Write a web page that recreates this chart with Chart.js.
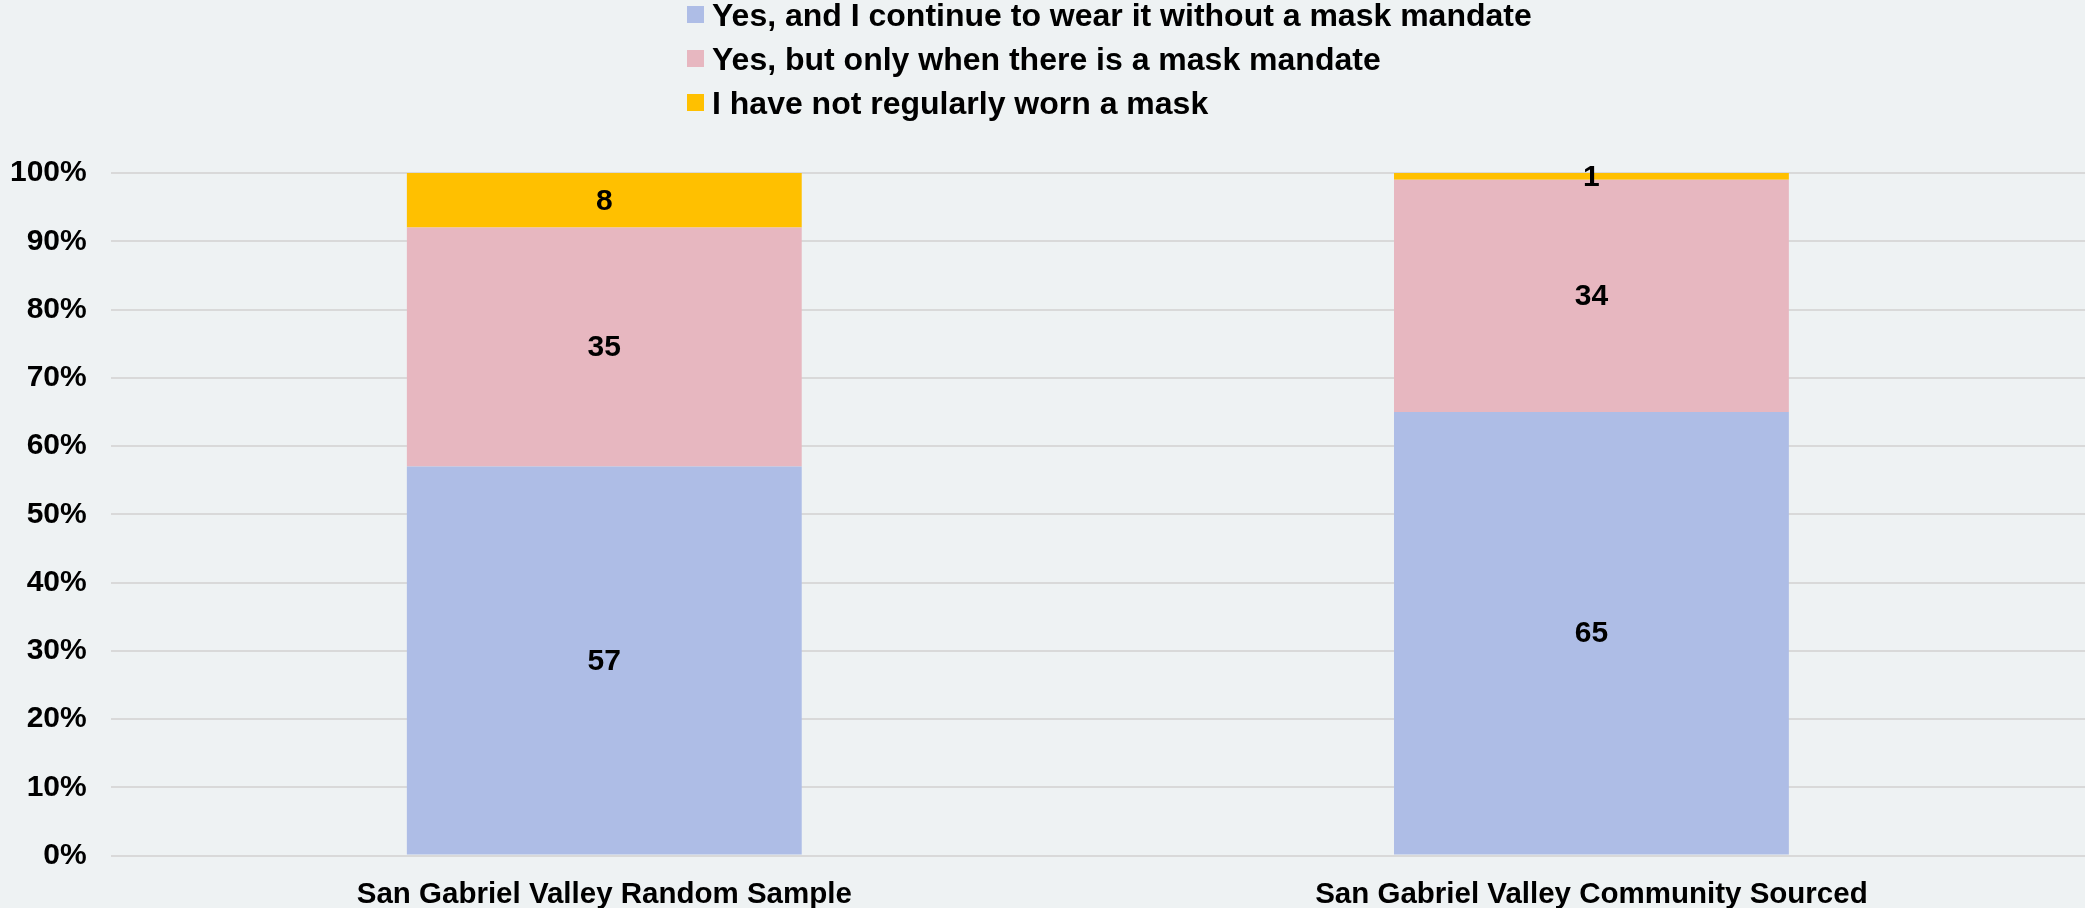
<!DOCTYPE html>
<html>
<head>
<meta charset="utf-8">
<script src="https://cdn.jsdelivr.net/npm/chart.js@4/dist/chart.umd.min.js"></script>
<style>
  html, body { margin:0; padding:0; background:#eef2f3; }
  #wrap { position:relative; width:2085px; height:908px; }
  #legend { position:absolute; left:687px; top:-7px; font:bold 32px "Liberation Sans", Arial, sans-serif; color:#000; }
  #legend div { height:44px; line-height:44px; white-space:nowrap; }
  #legend span.box { display:inline-block; width:17px; height:17px; margin-right:8px; vertical-align:middle; position:relative; top:-3px; }
</style>
</head>
<body>
<div id="wrap">
  <canvas id="c" width="2085" height="908"></canvas>
  <div id="legend"></div>
</div>
<script>
// === Data ===
const categories = ['San Gabriel Valley Random Sample', 'San Gabriel Valley Community Sourced'];
const seriesNames = [
  'Yes, and I continue to wear it without a mask mandate',
  'Yes, but only when there is a mask mandate',
  'I have not regularly worn a mask'
];
const wearWithout = [57, 65];
const onlyMandate = [35, 34];
const notWorn = [8, 1];
const yTicks = [0, 10, 20, 30, 40, 50, 60, 70, 80, 90, 100];

const colors = ['#aebde6', '#e7b7c0', '#ffc000'];
const FONT = '"Liberation Sans", Arial, sans-serif';

// === Legend (stacked list, left aligned) ===
document.getElementById('legend').innerHTML = seriesNames.map((n, i) =>
  `<div><span class="box" style="background:${colors[i]}"></span>${n}</div>`).join('');

// === Value labels drawn in the middle of each segment ===
const barLabels = {
  id: 'barLabels',
  afterDatasetsDraw(chart) {
    const ctx = chart.ctx;
    ctx.save();
    ctx.font = `bold 30px ${FONT}`;
    ctx.fillStyle = '#000';
    ctx.textAlign = 'center';
    ctx.textBaseline = 'middle';
    chart.data.datasets.forEach((ds, di) => {
      chart.getDatasetMeta(di).data.forEach((bar, i) => {
        const mid = (bar.y + bar.base) / 2;
        ctx.fillText(ds.data[i], bar.x, mid + 1);
      });
    });
    ctx.restore();
  }
};

new Chart(document.getElementById('c'), {
  type: 'bar',
  data: {
    labels: categories,
    datasets: [
      { label: seriesNames[0], data: wearWithout, backgroundColor: colors[0] },
      { label: seriesNames[1], data: onlyMandate, backgroundColor: colors[1] },
      { label: seriesNames[2], data: notWorn, backgroundColor: colors[2] }
    ]
  },
  options: {
    responsive: false,
    animation: false,
    layout: { padding: { top: 173, left: 10, right: 0, bottom: 0 } },
    datasets: { bar: { barPercentage: 0.4, categoryPercentage: 1 } },
    plugins: { legend: { display: false }, tooltip: { enabled: false } },
    scales: {
      x: {
        stacked: true,
        grid: { display: false, drawTicks: true, tickLength: 25.5 },
        border: { display: false },
        ticks: { color: '#000', font: { family: FONT, size: 29.5, weight: 'bold', lineHeight: '27px' }, padding: 0 }
      },
      y: {
        stacked: true,
        min: 0, max: 100,
        afterBuildTicks: ax => { ax.ticks = yTicks.map(v => ({ value: v })); },
        grid: { color: '#d9d9d9', lineWidth: 2, drawTicks: true, tickLength: 24, tickColor: 'rgba(0,0,0,0)' },
        border: { display: false },
        ticks: { color: '#000', font: { family: FONT, size: 30, weight: 'bold' }, padding: 0, callback: v => v + '%' }
      }
    }
  },
  plugins: [barLabels]
});
</script>
</body>
</html>
